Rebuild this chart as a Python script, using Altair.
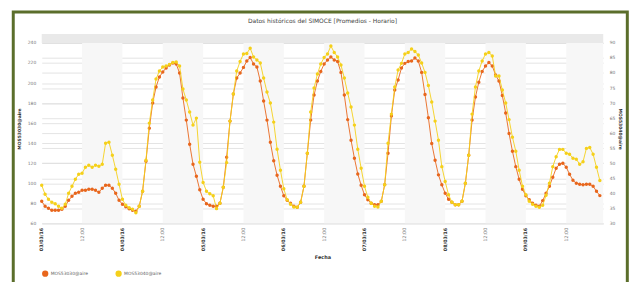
import altair as alt
import pandas as pd

title_text = "Datos históricos del SIMOCE [Promedios - Horario]"
series_names = ["MOS53030@aire", "MOS53040@aire"]
series_colors = ["#E8661C", "#F5D01A"]
date_labels = ["03/03/16", "04/03/16", "05/03/16", "06/03/16", "07/03/16", "08/03/16", "09/03/16"]
x_tick_hours = [0, 12, 24, 36, 48, 60, 72, 84, 96, 108, 120, 132, 144, 156]
left_ticks = [60, 80, 100, 120, 140, 160, 180, 200, 220, 240]
right_ticks = [30, 35, 40, 45, 50, 55, 60, 65, 70, 75, 80, 85, 90]
left_domain = [60, 249]
right_domain = [30, 93]
x_domain = [0, 167]
band_start = [12, 36, 60, 84, 108, 132, 156]
band_end = [24, 48, 72, 96, 120, 144, 167]

# hourly values, 03/03/16 00:00 onwards
orange = [
    82, 77, 75, 73, 73, 73, 74, 77, 83, 87, 90, 91, 93, 93, 94, 94, 93, 91, 95, 98, 98, 95, 90, 83,
    79, 76.5, 74.5, 73, 72, 77, 92, 122, 155, 180, 196, 206, 211, 215, 218, 220, 219, 210, 185, 163, 139, 119, 107, 93.5,
    84, 79.6, 78, 77, 77, 80, 96, 126, 162, 189, 205, 210, 215.6, 222, 225.5, 219, 216, 202, 182, 163, 141, 122.5, 108, 97,
    87.6, 83, 80, 77, 76, 81, 97, 130, 163, 188, 202, 211.6, 219, 223, 226, 223, 221.5, 210.6, 188, 163.5, 143, 125, 109.3, 98,
    88.5, 83.6, 80, 78.6, 78.6, 82, 98.5, 130, 167, 193, 203, 215, 219.6, 221.5, 222, 225, 222, 210.6, 188.5, 165.4, 139.7, 123, 108.4, 98.5,
    90, 84, 81, 78.6, 78.6, 82, 100, 128, 163, 186, 200.8, 211.6, 217, 220.5, 217, 208, 202, 187.5, 170, 149.6, 132, 116.6, 104, 94,
    87.6, 83.6, 80, 78, 77, 82.7, 90, 97, 106, 115, 119, 120, 116, 109, 103, 100, 99, 98.6, 99, 99, 97, 92, 87.7,
]
yellow = [
    98, 89, 84, 81, 79.5, 77, 75, 79, 90, 97, 104, 109, 110, 116, 118, 116, 118, 117, 119, 140, 141, 128, 114, 99,
    84, 78, 75.5, 74, 70.5, 77, 92, 123, 160, 183, 204, 212, 216, 217, 218.6, 220.5, 221, 217, 194, 183, 171, 158, 165, 121,
    100.8, 92, 89.5, 87.5, 74.7, 80, 96, 120.6, 162, 189, 212, 221.5, 229, 229.5, 234.7, 226, 223, 220, 205, 191, 180, 161, 134, 113,
    94.5, 83.6, 79, 76.3, 76, 81, 97, 130, 171, 195, 209, 219, 225.5, 229, 237, 230.5, 226, 218, 205, 190, 176, 158, 134, 115,
    97, 86, 80, 77, 76.3, 82, 98.5, 140, 169, 196, 213, 219.6, 229, 230.5, 234, 231.5, 228, 220, 210.6, 197.5, 181, 162, 143, 116.6,
    101.8, 88.5, 81, 78.6, 78.6, 82, 100, 128, 169, 196, 212, 222, 229, 230.5, 227, 207, 207, 193, 180, 163.5, 146, 132, 113, 97,
    88.5, 82, 79, 77, 76, 78, 88, 100, 116.6, 126.5, 133.8, 133.8, 130, 129, 125, 124, 119, 121.5, 134.8, 135.7, 129, 116, 102.7,
]

df_o = pd.DataFrame({"hora": list(range(len(orange))), "valor": orange, "serie": series_names[0]})
df_y = pd.DataFrame({"hora": list(range(len(yellow))), "valor": yellow, "serie": series_names[1]})
df_b = pd.DataFrame({"ini": band_start, "fin": band_end})
df_title = pd.DataFrame({"t": [title_text]})

W, H = 566, 191
FONT = "DejaVu Sans"

x_scale = alt.Scale(domain=x_domain, nice=False, zero=False)
y_scale = alt.Scale(domain=left_domain, nice=False, zero=False)
color_scale = alt.Scale(domain=series_names, range=series_colors)

label_expr = "datum.value % 24 == 0 ? " + str(date_labels) + "[datum.value / 24] : '12:00'"
x_axis = alt.Axis(
    values=x_tick_hours, labelExpr=label_expr, labelAngle=270, labelFontSize=4.8,
    labelFontWeight={"condition": {"test": "datum.value % 24 == 0", "value": "bold"}, "value": "normal"},
    labelColor={"condition": {"test": "datum.value % 24 == 0", "value": "#333333"}, "value": "#888888"},
    labelPadding=4, labelOverlap=False, labelFlush=False, domain=False, ticks=False, grid=False,
    title="Fecha", titleFontSize=5, titleFontWeight="bold", titleColor="#333333", titlePadding=4,
)
y_axis = alt.Axis(
    values=left_ticks, labelFontSize=4.5, labelColor="#777777", labelPadding=6,
    domain=False, ticks=False, grid=True, gridColor="#dddddd", gridWidth=0.8,
    title=series_names[0], titleFontSize=4.5, titleFontWeight="bold", titleColor="#333333", titlePadding=6,
)
legend = alt.Legend(
    orient="none", legendX=0, legendY=238, direction="horizontal", title=None,
    symbolType="circle", symbolSize=40, symbolStrokeWidth=0, labelFontSize=4.5, labelColor="#666666",
    labelOffset=2, columnPadding=27, padding=0,
)

border = alt.Chart(pd.DataFrame({"k": [0]})).mark_rect(
    fillOpacity=0, stroke="#5B6E2B", strokeWidth=3
).encode(x=alt.value(-28.7), x2=alt.value(590.3), y=alt.value(-22), y2=alt.value(320))

title_mark = alt.Chart(df_title).mark_text(
    fontSize=6, font=FONT, color="#444444", align="center", baseline="middle"
).encode(text="t:N", x=alt.value(W / 2), y=alt.value(-13))

bands = alt.Chart(df_b).mark_rect(color="#f7f7f7").encode(
    x=alt.X("ini:Q", scale=x_scale, axis=x_axis), x2="fin:Q",
    y=alt.YDatum(left_domain[1], scale=y_scale, axis=y_axis), y2=alt.Y2Datum(left_domain[0]),
)
top_band = alt.Chart(pd.DataFrame({"k": [0]})).mark_rect(color="#e9e9e9").encode(
    x=alt.XDatum(x_domain[0], scale=x_scale, axis=x_axis), x2=alt.X2Datum(x_domain[1]),
    y=alt.YDatum(left_domain[1], scale=y_scale, axis=y_axis), y2=alt.Y2Datum(left_ticks[-1]),
)

def series_layers(df, col):
    line = alt.Chart(df).mark_line(strokeWidth=0.9, color=col).encode(
        x=alt.X("hora:Q", scale=x_scale, axis=x_axis),
        y=alt.Y("valor:Q", scale=y_scale, axis=y_axis),
    )
    pts = alt.Chart(df).mark_circle(size=12, opacity=1).encode(
        x=alt.X("hora:Q", scale=x_scale, axis=x_axis),
        y=alt.Y("valor:Q", scale=y_scale, axis=y_axis),
        color=alt.Color("serie:N", scale=color_scale, legend=legend),
    )
    return [line, pts]

inner = alt.layer(border, title_mark, bands, top_band,
                  *series_layers(df_o, series_colors[0]),
                  *series_layers(df_y, series_colors[1]))

right = alt.Chart(pd.DataFrame({"r": right_ticks})).mark_tick(opacity=0).encode(
    y=alt.Y("r:Q", scale=alt.Scale(domain=right_domain, nice=False, zero=False),
            axis=alt.Axis(orient="right", values=right_ticks, labelFontSize=4.5, labelColor="#777777",
                          labelPadding=6, domain=False, ticks=False, grid=True, gridColor="#dddddd",
                          gridWidth=0.8, title=series_names[1], titleFontSize=4.5, titleFontWeight="bold",
                          titleColor="#333333", titlePadding=3)),
)

chart = alt.layer(inner, right).resolve_scale(y="independent").properties(
    width=W, height=H,
    autosize=alt.AutoSizeParams(type="none"),
    padding={"left": 34, "top": 25, "right": 26, "bottom": 58},
).configure(font=FONT).configure_view(stroke=None)

chart.save("out.html", embed_options={"renderer": "svg", "actions": False})
